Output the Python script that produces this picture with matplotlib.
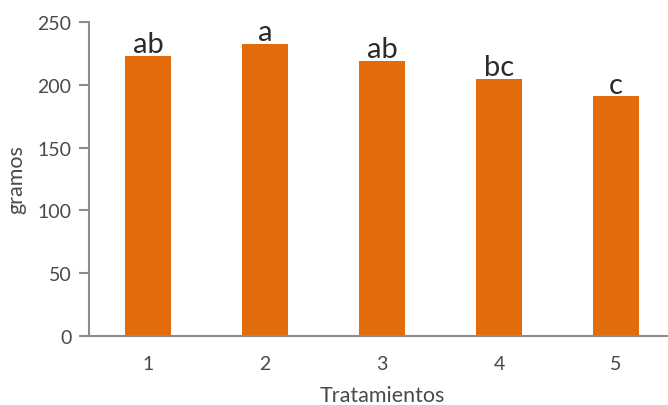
import matplotlib
matplotlib.use('Agg')
import matplotlib.pyplot as plt

# datos del gráfico
tratamientos = ['1', '2', '3', '4', '5']
gramos = [223, 232.5, 219, 204.6, 190.8]
letras = ['ab', 'a', 'ab', 'bc', 'c']

plt.rcParams['font.family'] = ['Lato', 'DejaVu Sans']

color_barra = '#E36C0A'
color_texto = '#4A4A4A'
color_eje = '#8C8C8C'

fig = plt.figure(figsize=(6.68, 4.06), dpi=100)
# el eje x se extiende un poco más allá del borde derecho
ax = fig.add_axes([89.5 / 668, 69 / 406, 585 / 668, 314 / 406])

x = range(1, len(tratamientos) + 1)
barras = ax.bar(x, gramos, width=0.4, color=color_barra, zorder=2)

# letras de significancia sobre cada barra
for xi, g, l in zip(x, gramos, letras):
    ax.text(xi, g - 1, l, ha='center', va='bottom', fontsize=21,
            color='#2B2B2B')

ax.set_xlim(0.5, 5.5)
ax.set_ylim(0, 250)
ax.set_yticks([0, 50, 100, 150, 200, 250])
ax.set_xticks(list(x))
ax.set_xticklabels(tratamientos)

for s in ['top', 'right']:
    ax.spines[s].set_visible(False)
for s in ['left', 'bottom']:
    ax.spines[s].set_color(color_eje)
    ax.spines[s].set_linewidth(1.5)

ax.tick_params(axis='y', length=7, width=1.5, color=color_eje,
               labelsize=14, labelcolor=color_texto, pad=6)
ax.tick_params(axis='x', length=0, labelsize=14, labelcolor=color_texto, pad=14)

ax.set_ylabel('gramos', fontsize=15.5, color=color_texto, labelpad=8)
ax.set_xlabel('Tratamientos', fontsize=15.5, color=color_texto, labelpad=9)

fig.savefig('out.png', dpi=100)
